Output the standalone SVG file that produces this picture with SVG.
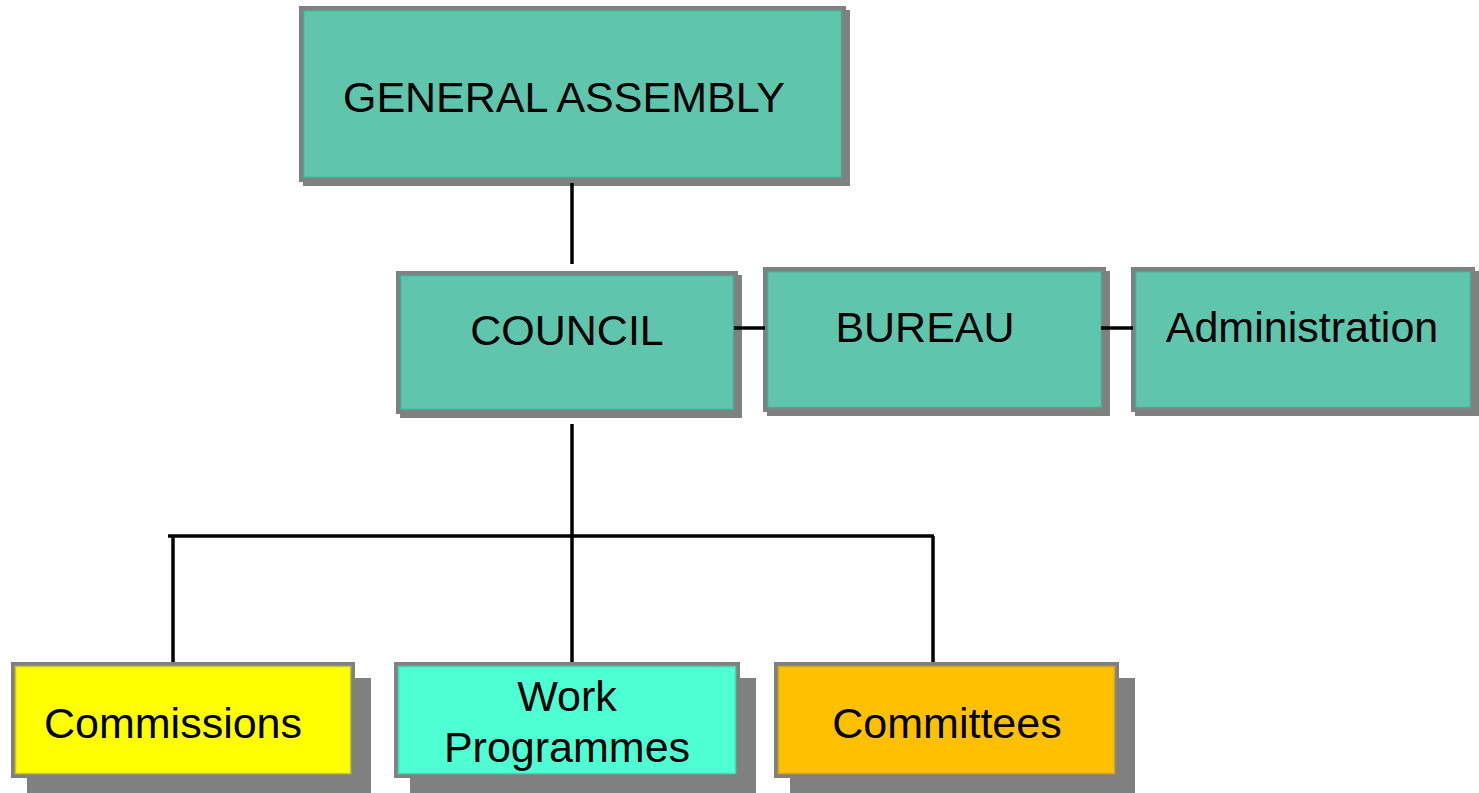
<svg xmlns="http://www.w3.org/2000/svg" width="1479" height="793" viewBox="0 0 1479 793">
<style>
  .shadow { fill: #808080; }
  .box { stroke: #808080; stroke-width: 4; }
  .teal { fill: #5fc6ad; }
  .inner { fill: none; stroke-width: 1.5; }
  .lbl { font-family: "Liberation Sans", Arial, sans-serif; font-size: 43px; fill: #000; text-anchor: middle; }
  .conn { stroke: #000; stroke-width: 3.5; fill: none; }
</style>
<rect width="1479" height="793" fill="#ffffff"/>
<g id="general-assembly">
  <rect class="shadow" x="303" y="10" width="547" height="176"/>
  <rect class="box teal" x="301" y="8" width="543" height="172"/>
  <rect class="inner" stroke="#4aa892" x="303.5" y="10.5" width="538" height="167"/>
  <text class="lbl" x="564" y="112">GENERAL ASSEMBLY</text>
</g>
<g id="council">
  <rect class="shadow" x="400" y="275" width="342" height="143"/>
  <rect class="box teal" x="398" y="273" width="338" height="139"/>
  <rect class="inner" stroke="#4aa892" x="400.5" y="275.5" width="333" height="134"/>
  <text class="lbl" x="567" y="345">COUNCIL</text>
</g>
<g id="bureau">
  <rect class="shadow" x="767" y="271" width="343" height="145"/>
  <rect class="box teal" x="765" y="269" width="339" height="141"/>
  <rect class="inner" stroke="#4aa892" x="767.5" y="271.5" width="334" height="136"/>
  <text class="lbl" x="925" y="342">BUREAU</text>
</g>
<g id="administration">
  <rect class="shadow" x="1135" y="271" width="344" height="145"/>
  <rect class="box teal" x="1133" y="269" width="340" height="141"/>
  <rect class="inner" stroke="#4aa892" x="1135.5" y="271.5" width="335" height="136"/>
  <text class="lbl" x="1302" y="342">Administration</text>
</g>
<g id="commissions">
  <rect class="shadow" x="27" y="678" width="344" height="116"/>
  <rect class="box" fill="#ffff00" x="13" y="664" width="340" height="112"/>
  <rect class="inner" stroke="#c8c832" x="15.5" y="666.5" width="335" height="107"/>
  <text class="lbl" x="173" y="738">Commissions</text>
</g>
<g id="work-programmes">
  <rect class="shadow" x="410" y="678" width="346" height="116"/>
  <rect class="box" fill="#4dffd3" x="396" y="664" width="342" height="112"/>
  <rect class="inner" stroke="#48d8b4" x="398.5" y="666.5" width="337" height="107"/>
  <text class="lbl" x="567" y="711">Work</text>
  <text class="lbl" x="567" y="762">Programmes</text>
</g>
<g id="committees">
  <rect class="shadow" x="790" y="678" width="345" height="116"/>
  <rect class="box" fill="#ffc000" x="776" y="664" width="341" height="112"/>
  <rect class="inner" stroke="#d8a61a" x="778.5" y="666.5" width="336" height="107"/>
  <text class="lbl" x="947" y="738">Committees</text>
</g>
<g id="connectors">
  <line class="conn" x1="572" y1="183" x2="572" y2="264"/>
  <line class="conn" x1="734" y1="328" x2="765" y2="328"/>
  <line class="conn" x1="1101" y1="328" x2="1133" y2="328"/>
  <line class="conn" x1="572" y1="424" x2="572" y2="662"/>
  <line class="conn" x1="168" y1="536" x2="934" y2="536"/>
  <line class="conn" x1="173" y1="536" x2="173" y2="662"/>
  <line class="conn" x1="933" y1="536" x2="933" y2="662"/>
</g>
</svg>
